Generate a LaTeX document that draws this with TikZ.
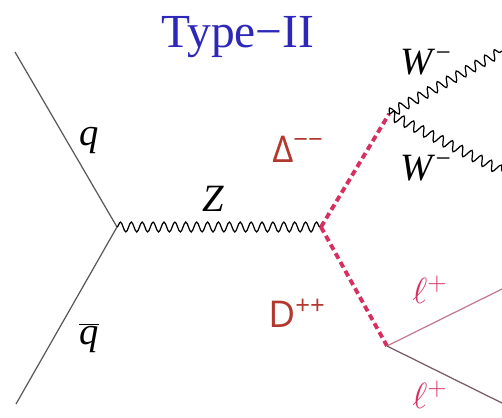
\documentclass[tikz,border=0pt]{standalone}
\usepackage{fontspec}
\setmainfont{Liberation Serif}
\newfontfamily\chargefont{Open Sans}
\usetikzlibrary{decorations.pathmorphing}

\definecolor{typeblue}{RGB}{45,40,185}
\definecolor{chargered}{RGB}{178,56,46}
\definecolor{scalarpink}{RGB}{214,48,96}
\definecolor{leptonpink}{RGB}{196,120,140}
\definecolor{leptongray}{RGB}{120,90,100}

\begin{document}
\begin{tikzpicture}[x=0.02cm, y=-0.02cm,
    fermion/.style={draw=black!65, line width=0.7pt},
    boson/.style={draw=black, line width=0.7pt,
      decorate, decoration={snake, amplitude=2.8pt, segment length=6.2pt}},
    scalar/.style={draw=scalarpink, line width=2.2pt, dash pattern=on 3.5pt off 2.2pt},
    lepton/.style={line width=0.7pt},
    every node/.style={font=\fontsize{22}{24}\selectfont},
    charge/.style={text=chargered, font=\chargefont\fontsize{21}{24}\selectfont}]

  \useasboundingbox (0,0) rectangle (502,417);

  % vertices and free ends
  \coordinate (qin)  at (15,52);
  \coordinate (qbin) at (16,404);
  \coordinate (vz)   at (117,227);
  \coordinate (vd)   at (321,227);
  \coordinate (vw)   at (389,114);
  \coordinate (vl)   at (387,346);
  \coordinate (w1)   at (504,50);
  \coordinate (w2)   at (504,172);
  \coordinate (l1)   at (504,288);
  \coordinate (l2)   at (504,404);

  \path[fermion] (qin) -- (vz) -- (qbin);
  \path[boson] (vz) -- (vd);
  \path[scalar] (vd) -- (vw);
  \path[scalar] (vd) -- (vl);
  \path[boson] (vw) -- (w1);
  \path[boson] (vw) -- (w2);
  \draw[lepton, leptonpink] (vl) -- (l1);
  \draw[lepton, leptongray] (vl) -- (l2);

  % labels
  \node[text=typeblue, font=\fontsize{27}{29}\selectfont] (title) at (238,37) {Type−II};
  \node (qlab)  at (89,140) {\textit{q}};
  \node (qblab) at (89,338) {$\overline{\mbox{\textit{q}}}$};
  \node (zlab)  at (213,199) {\textit{Z}};
  \node[charge] (dmlab) at (298,149) {Δ\textsuperscript{−−}};
  \node[charge] (dplab) at (297,313) {D\textsuperscript{++}};
  \node (wlab1) at (426,62)  {\textit{W}\textsuperscript{−}};
  \node (wlab2) at (426,168) {\textit{W}\textsuperscript{−}};
  \node[text=scalarpink] (llab1) at (430,290) {$\ell^{+}$};
  \node[text=scalarpink] (llab2) at (430,395) {$\ell^{+}$};

\end{tikzpicture}
\end{document}
